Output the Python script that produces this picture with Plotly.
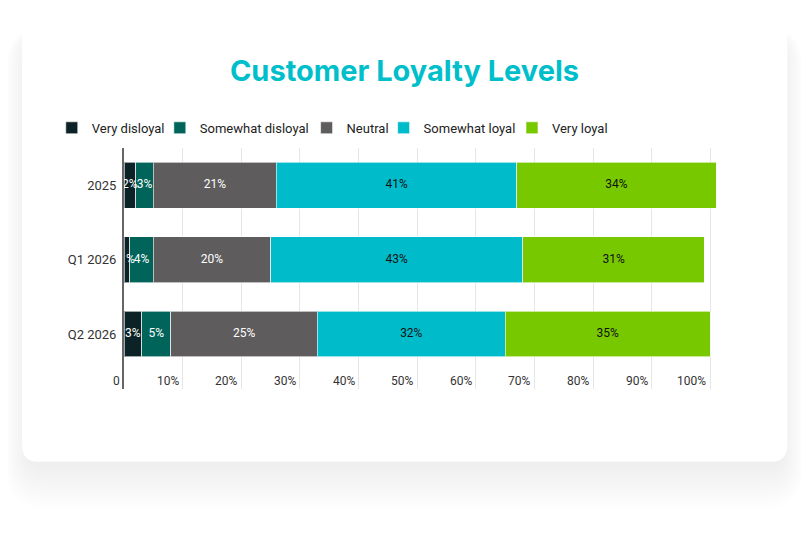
import plotly.graph_objects as go

# ---------------- data ----------------
categories = ["2025", "Q1 2026", "Q2 2026"]
series_names = ["Very disloyal", "Somewhat disloyal", "Neutral", "Somewhat loyal", "Very loyal"]
very_disloyal = [2, 1, 3]
somewhat_disloyal = [3, 4, 5]
neutral = [21, 20, 25]
somewhat_loyal = [41, 43, 32]
very_loyal = [34, 31, 35]
tick_values = [0, 10, 20, 30, 40, 50, 60, 70, 80, 90, 100]
tick_labels = ["0", "10%", "20%", "30%", "40%", "50%", "60%", "70%", "80%", "90%", "100%"]
chart_title = "Customer Loyalty Levels"

# ---------------- style ----------------
colors = ["#0b2326", "#00645a", "#5f5c5d", "#00bccb", "#78c800"]
text_colors = ["#ffffff", "#ffffff", "#ffffff", "#111111", "#111111"]
FONT = "Roboto, Inter, sans-serif"

OFF = 8  # page body margin
W, H = 809 - 2 * OFF, 538 - 2 * OFF
ML = 124 - OFF
MT = 147.5 - OFF
PW = 5.86 * 102
MR = W - ML - PW
MB = H - (389 - OFF)
PH = H - MT - MB


def px(x):
    """reference-image pixel x -> paper x"""
    return (x - OFF - ML) / PW


def py(y):
    """reference-image pixel y -> paper y"""
    return (H - MB - (y - OFF)) / PH


def rrect(x0, y0, x1, y1, r):
    pts = [
        ("M", [(x0 + r, y0)]),
        ("L", [(x1 - r, y0)]),
        ("Q", [(x1, y0), (x1, y0 + r)]),
        ("L", [(x1, y1 - r)]),
        ("Q", [(x1, y1), (x1 - r, y1)]),
        ("L", [(x0 + r, y1)]),
        ("Q", [(x0, y1), (x0, y1 - r)]),
        ("L", [(x0, y0 + r)]),
        ("Q", [(x0, y0), (x0 + r, y0)]),
    ]
    s = ""
    for cmd, ps in pts:
        s += cmd + " " + " ".join(f"{px(a):.5f},{py(b):.5f}" for a, b in ps) + " "
    return s + "Z"


fig = go.Figure()
all_values = [very_disloyal, somewhat_disloyal, neutral, somewhat_loyal, very_loyal]
legend_ids = ["legend", "legend2", "legend3", "legend4", "legend5"]
legend_square_x = [69.3, 177.3, 324, 401, 529.3]

# stacked bars
for name, vals, c, lg in zip(series_names, all_values, colors, legend_ids):
    fig.add_trace(go.Bar(
        name=name,
        y=categories,
        x=vals,
        orientation="h",
        legend=lg,
        marker=dict(color=c, line=dict(color="rgba(255,255,255,0.6)", width=1)),
        hoverinfo="skip",
    ))

# segment labels drawn on top of all bars (centre of each stacked segment)
base = [0] * len(categories)
for name, vals, tc in zip(series_names, all_values, text_colors):
    mids = [b + v / 2 for b, v in zip(base, vals)]
    fig.add_trace(go.Scatter(
        x=mids, y=categories, mode="text",
        text=[f"{v}%" for v in vals],
        textposition="middle center",
        textfont=dict(family=FONT, size=12, color=tc),
        showlegend=False, hoverinfo="skip", cliponaxis=False,
    ))
    base = [b + v for b, v in zip(base, vals)]

# card with soft shadow
shapes = []
card = (22, 3, 787, 462, 17)
n = 16
for i in range(n):
    e = i * 1.9
    shapes.append(dict(
        type="path", xref="paper", yref="paper", layer="below",
        path=rrect(card[0] + 4 - e * 0.75, card[1] + 30 - e * 0.3,
                   card[2] - 4 + e * 0.75, card[3] + 6 + e * 1.5, card[4] + e),
        fillcolor="rgba(0,0,0,0.0055)", line=dict(width=0),
    ))
shapes.append(dict(
    type="path", xref="paper", yref="paper", layer="below",
    path=rrect(*card), fillcolor="#ffffff", line=dict(width=0),
))

# x tick labels (right-aligned to their gridline, inside the plot bottom)
annotations = []
for v, t in zip(tick_values, tick_labels):
    annotations.append(dict(
        x=v, xref="x", y=0, yref="paper",
        text=t, showarrow=False,
        xanchor="right", yanchor="bottom", xshift=-2, yshift=-1,
        font=dict(family=FONT, size=12, color="#333333"),
    ))

legend_layouts = {}
for lg, sx in zip(legend_ids, legend_square_x):
    legend_layouts[lg] = dict(
        orientation="h",
        x=px(sx - 17.5), xanchor="left",
        y=py(127.3), yanchor="middle",
        font=dict(family=FONT, size=13, color="#222222"),
        bgcolor="rgba(0,0,0,0)",
        itemwidth=30,
    )

fig.update_layout(
    width=W, height=H,
    margin=dict(l=ML, r=MR, t=MT, b=MB, autoexpand=False),
    paper_bgcolor="#ffffff",
    plot_bgcolor="rgba(0,0,0,0)",
    barmode="stack",
    bargap=0.383,
    shapes=shapes,
    annotations=annotations,
    title=dict(
        text=f"<b>{chart_title}</b>",
        font=dict(family="Inter, Roboto, sans-serif", size=29, color="#00bfcb"),
        x=0.5, xref="container", xanchor="center",
        y=1 - (71 - OFF) / H, yref="container", yanchor="middle",
    ),
    font=dict(family=FONT, color="#333333"),
    showlegend=True,
    **legend_layouts,
)

fig.update_xaxes(
    range=[0, 102],
    tickvals=tick_values,
    showticklabels=False,
    showgrid=True, gridcolor="#e6e6e6", gridwidth=1,
    zeroline=False, showline=False, ticks="",
)
fig.update_yaxes(
    categoryorder="array", categoryarray=categories,
    range=[2.74, -0.5],
    showline=True, linecolor="#666666", linewidth=2,
    ticks="outside", ticklen=3, tickcolor="rgba(0,0,0,0)",
    tickfont=dict(family=FONT, size=13, color="#333333"),
    showgrid=False, zeroline=False,
)

fig.write_html("out.html")
